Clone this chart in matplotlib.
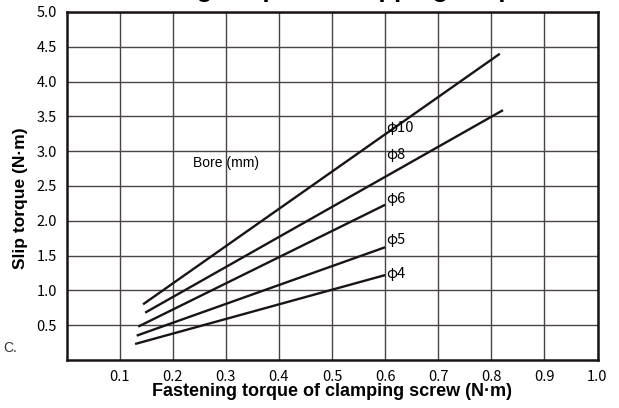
import matplotlib
matplotlib.use("Agg")
import matplotlib.pyplot as plt
import numpy as np

# bore sizes and line endpoints (fastening torque, slip torque)
bores = ["φ10", "φ8", "φ6", "φ5", "φ4"]
x_start = [0.144, 0.148, 0.135, 0.132, 0.129]
y_start = [0.80, 0.68, 0.48, 0.35, 0.23]
x_end = [0.816, 0.822, 0.60, 0.60, 0.60]
y_end = [4.40, 3.59, 2.23, 1.62, 1.22]
label_y = [3.33, 2.95, 2.31, 1.72, 1.23]

x_ticks = [0.1, 0.2, 0.3, 0.4, 0.5, 0.6, 0.7, 0.8, 0.9, 1.0]
y_ticks = [0.5, 1.0, 1.5, 2.0, 2.5, 3.0, 3.5, 4.0, 4.5, 5.0]

sans = ["Liberation Sans", "DejaVu Sans"]
cjk = ["Noto Sans CJK JP", "DejaVu Sans"]

fig = plt.figure(figsize=(6.19, 4.08), dpi=100)
ax = fig.add_axes([66.6 / 619, 1 - 360 / 408, (597.5 - 66.6) / 619, (360 - 12) / 408])

ax.set_xlim(0, 1.0)
ax.set_ylim(0, 5.0)
ax.set_xticks(x_ticks)
ax.set_yticks(y_ticks)
ax.set_xticklabels(["%.1f" % v for v in x_ticks], family=cjk, fontsize=10.5)
ax.set_yticklabels(["%.1f" % v for v in y_ticks], family=cjk, fontsize=10.5)
ax.tick_params(length=0, pad=7)
ax.grid(True, color="#4a4444", lw=1.0)
ax.set_axisbelow(True)
for s in ax.spines.values():
    s.set_linewidth(1.8)
    s.set_color("#1a1414")

for name, x0, y0, x1, y1, ly in zip(bores, x_start, y_start, x_end, y_end, label_y):
    ax.plot([x0, x1], [y0, y1], color="#1a1414", lw=1.7, solid_capstyle="butt")
    ax.text(0.602, ly, name, family=cjk, fontsize=10.5, va="center", ha="left")

ax.text(0.238, 2.83, "Bore (mm)", family=sans, fontsize=10, va="center", ha="left")

ax.set_xlabel("Fastening torque of clamping screw (N·m)", family=sans,
              fontweight="bold", fontsize=13, va="center", ha="center")
ax.set_ylabel("Slip torque (N·m)", family=sans, fontweight="bold", fontsize=12.5,
              va="center", ha="center")
ax.xaxis.set_label_coords(0.5, (360 - 392) / 348)
ax.yaxis.set_label_coords((20 - 66.6) / 531, (360 - 198) / 348)

fig.text(3 / 619, 1 - 348 / 408, "C.", family=sans, fontsize=10, va="center",
         color="#333333")
# title is cut off at the top of the picture, only descenders show
fig.text(68 / 619, 1 + 2.5 / 408, "■ Fastening torque vs. slipping torque",
         family=["Liberation Sans", "Noto Sans CJK JP"], fontweight="bold",
         fontsize=18.5, va="baseline", ha="left")

fig.savefig("out.png", dpi=100)
